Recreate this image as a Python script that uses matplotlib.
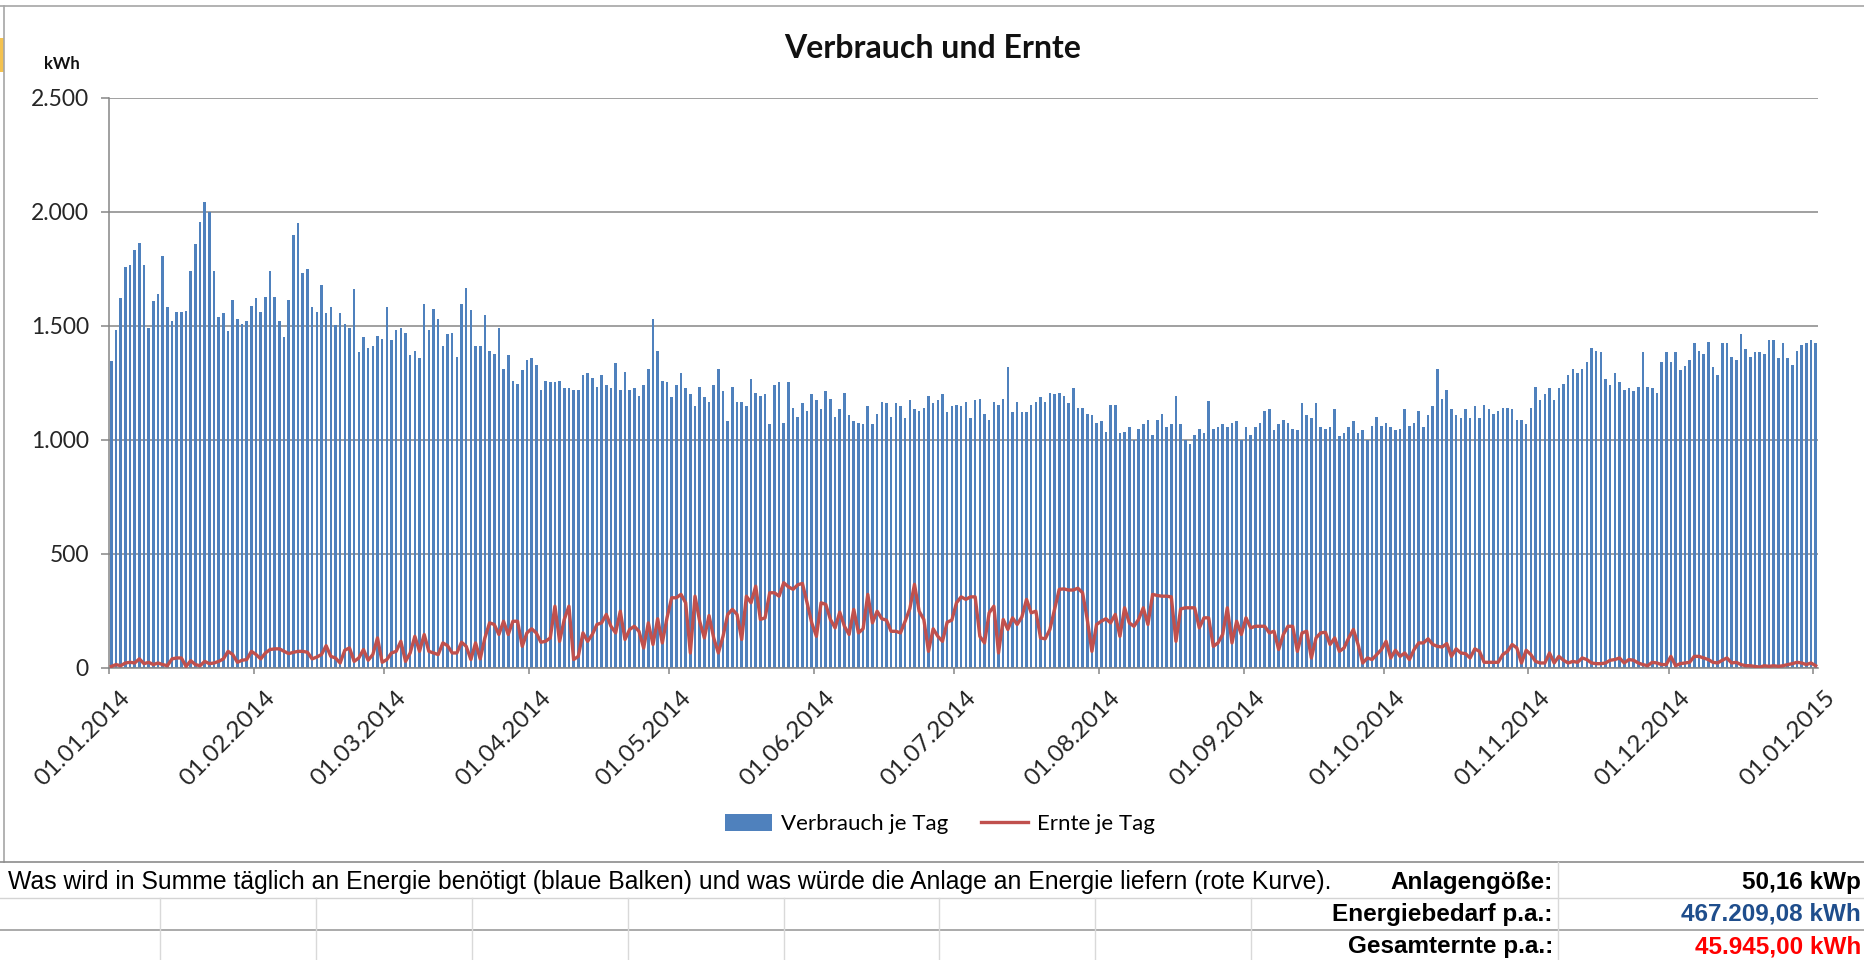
import numpy as np
import pandas as pd
import matplotlib
matplotlib.use("Agg")
import matplotlib.pyplot as plt
import matplotlib.dates as mdates
from matplotlib.ticker import FuncFormatter, MultipleLocator
from matplotlib.transforms import ScaledTranslation
from matplotlib.patches import Patch, Rectangle
from matplotlib.lines import Line2D

# daily consumption (kWh), 01.01.2014 .. 01.01.2015
verbrauch = [
    1346, 1484, 1623, 1759, 1767, 1833, 1865, 1767, 1491, 1608, 1640, 1806, 1583, 1523, 1561,
    1561, 1567, 1740, 1859, 1957, 2042, 2001, 1740, 1538, 1555, 1476, 1616, 1529, 1510, 1522,
    1588, 1623, 1561, 1627, 1740, 1627, 1522, 1451, 1616, 1898, 1951, 1733, 1752, 1583, 1561,
    1681, 1555, 1583, 1503, 1555, 1510, 1491, 1661, 1385, 1451, 1404, 1412, 1457, 1443, 1583,
    1437, 1484, 1491, 1470, 1372, 1391, 1358, 1595, 1484, 1576, 1529, 1412, 1463, 1470, 1365,
    1595, 1667, 1569, 1412, 1412, 1550, 1391, 1378, 1491, 1312, 1372, 1259, 1246, 1305, 1352,
    1358,
    1331, 1220, 1259, 1253, 1253, 1259, 1227, 1227, 1220, 1220, 1286, 1293, 1272, 1233, 1286,
    1240, 1227, 1338, 1220, 1299, 1220, 1227, 1193, 1240, 1312, 1529, 1391, 1259, 1253, 1187,
    1240, 1293, 1227, 1201, 1148, 1233, 1187, 1167, 1240, 1312, 1214, 1082, 1233, 1167, 1167,
    1148,
    1267, 1207, 1193, 1201, 1069, 1240, 1253, 1076, 1253, 1142, 1102, 1161, 1129, 1201, 1174,
    1135, 1214, 1180, 1102, 1135, 1207, 1108, 1082, 1076, 1069, 1148, 1069, 1116, 1167, 1161,
    1102, 1161, 1148, 1095, 1174, 1135, 1129, 1142, 1193, 1161, 1174, 1201, 1121, 1148, 1154,
    1148,
    1167, 1095, 1174, 1180, 1116, 1089, 1167, 1154, 1180, 1318, 1121, 1167, 1121, 1121, 1154,
    1167, 1187, 1167, 1207, 1201, 1207, 1193, 1161, 1227, 1142, 1142, 1116, 1108, 1076, 1082,
    1036, 1154, 1154, 1029, 1036, 1056, 1001, 1050, 1069, 1089, 1023, 1089, 1116, 1056, 1069,
    1193,
    1069, 1001, 984, 1023, 1050, 1029, 1170, 1050, 1056, 1069, 1056, 1076, 1082, 1001, 1056,
    1023, 1056, 1076, 1129, 1135, 1042, 1069, 1089, 1076, 1050, 1042, 1161, 1108, 1095, 1161,
    1056, 1050, 1056, 1135, 1016, 1029, 1056, 1082, 1029, 1042, 1001, 1063, 1102, 1063, 1076,
    1056, 1042,
    1050, 1135, 1063, 1076, 1129, 1056, 1108, 1148, 1312, 1180, 1220, 1135, 1108, 1095, 1135,
    1095, 1148, 1095, 1154, 1135, 1116, 1129, 1142, 1142, 1135, 1089, 1089, 1069, 1142, 1233,
    1174, 1201, 1227, 1174, 1227, 1246, 1286, 1312, 1293, 1312, 1344, 1404, 1391, 1385, 1267,
    1240, 1293, 1253, 1220, 1227, 1214, 1233, 1385, 1233, 1227, 1207, 1344, 1385, 1344, 1385,
    1305, 1325, 1352, 1425, 1391, 1378, 1431, 1318, 1286, 1425, 1425, 1365, 1352, 1463, 1399,
    1365, 1385, 1385, 1378, 1437, 1437, 1358, 1425, 1358, 1331, 1391, 1418, 1425, 1437, 1425,
]

# daily PV yield (kWh)
ernte = [
    7, 15, 10, 22, 25, 22, 40, 19, 25, 15, 22, 15, 10, 40, 44,
    44, 7, 32, 15, 10, 29, 19, 22, 29, 40, 73, 59, 25, 34, 37,
    73, 59, 40, 66, 81, 84, 84, 73, 63, 69, 73, 73, 69, 40, 48,
    59, 98, 51, 44, 22, 78, 88, 29, 44, 81, 34, 59, 132, 25, 37,
    66, 73, 117, 29, 66, 139, 73, 147, 73, 66, 59, 110, 98, 66, 66,
    113, 95, 37, 110, 40, 132, 198, 191, 147, 205, 147, 205, 205, 95, 154,
    172,
    154, 113, 117, 132, 271, 117, 213, 271, 37, 51, 154, 117, 147, 191, 198,
    235, 183, 154, 249, 125, 169, 183, 161, 88, 198, 103, 216, 110, 220, 308,
    308, 323, 286, 66, 315, 205, 132, 230, 132, 66, 139, 235, 257, 235, 125,
    315,
    286, 359, 213, 220, 330, 330, 315, 374, 356, 345, 365, 371, 286, 198, 139,
    286, 279, 213, 176, 245, 183, 147, 257, 154, 172, 323, 198, 249, 216, 210,
    161, 161, 154, 205, 260, 367, 249, 213, 73, 172, 139, 117, 201, 210, 286,
    312,
    301, 312, 312, 139, 110, 242, 271, 66, 213, 169, 220, 191, 224, 301, 242,
    249, 132, 128, 169, 257, 345, 347, 342, 342, 350, 330, 213, 73, 191, 205,
    216, 198, 235, 139, 264, 198, 183, 213, 264, 191, 323, 318, 315, 315, 312,
    117,
    259, 264, 264, 264, 176, 220, 220, 95, 110, 147, 264, 110, 205, 147, 220,
    176, 183, 183, 183, 154, 161, 81, 147, 183, 183, 73, 154, 161, 44, 132,
    154, 157, 103, 132, 73, 88, 132, 169, 103, 22, 44, 37, 59, 81, 117,
    44, 78,
    51, 66, 37, 81, 110, 110, 128, 103, 95, 92, 107, 51, 84, 66, 63,
    44, 84, 73, 25, 25, 25, 25, 59, 73, 103, 88, 22, 78, 59, 29,
    22, 22, 66, 22, 51, 34, 22, 29, 25, 44, 37, 22, 19, 19, 22,
    34, 37, 44, 22, 37, 34, 22, 15, 10, 25, 22, 15, 15, 51, 10,
    19, 22, 25, 51, 51, 44, 37, 25, 22, 34, 44, 22, 25, 15, 10,
    10, 7, 4, 10, 7, 10, 7, 10, 15, 19, 25, 22, 15, 22, 10,
]

tage = pd.date_range("2014-01-01", "2015-01-01", freq="D")

footer_text = ("Was wird in Summe täglich an Energie benötigt (blaue Balken) "
               "und was würde die Anlage an Energie liefern (rote Kurve).")
info_labels = ["Anlagengöße:", "Energiebedarf p.a.:", "Gesamternte p.a.:"]
info_values = ["50,16 kWp", "467.209,08 kWh", "45.945,00 kWh"]
info_colors = ["black", "#1F4E8C", "#FF0000"]

BLUE = "#4F81BD"
RED = "#C0504D"
GRID = "#868686"
SHEET_FONT = ['Liberation Sans Narrow', 'Liberation Sans', 'DejaVu Sans']

W, H = 1864, 960
fig = plt.figure(figsize=(W / 100, H / 100), dpi=100)
plt.rcParams['font.family'] = ['Lato', 'DejaVu Sans']


def fx(x):
    return x / W


def fy(y):
    return 1 - y / H


ax = fig.add_axes([fx(109), fy(668), fx(1818) - fx(109), fy(98) - fy(668)])

x = tage + pd.Timedelta(hours=12)
ax.bar(x, verbrauch, width=0.55, color=BLUE, linewidth=0, zorder=2)
ax.plot(x, ernte, color=RED, lw=2.4, zorder=3, solid_joinstyle='round')

ax.set_xlim(pd.Timestamp("2014-01-01"), pd.Timestamp("2015-01-02"))
ax.set_ylim(0, 2500)
ax.yaxis.set_major_locator(MultipleLocator(500))
ax.yaxis.set_major_formatter(FuncFormatter(lambda v, p: f"{int(v):,}".replace(",", ".")))
ax.xaxis.set_major_locator(mdates.MonthLocator(bymonthday=1))
ax.xaxis.set_major_formatter(mdates.DateFormatter("%d.%m.%Y"))

ax.grid(axis='y', color=GRID, lw=1.1, zorder=0)
ax.set_axisbelow(True)
for s in ['top', 'right']:
    ax.spines[s].set_visible(False)
for s in ['left', 'bottom']:
    ax.spines[s].set_color(GRID)
    ax.spines[s].set_linewidth(1.1)

ax.tick_params(axis='y', length=5.5, width=1.1, color=GRID, labelsize=16.5,
               labelcolor='#262626', pad=9)
ax.tick_params(axis='x', length=4.5, width=1.1, color=GRID, labelsize=17.5,
               labelcolor='#262626', pad=0)
shift = ScaledTranslation(0.18, -0.20, fig.dpi_scale_trans)
for lab in ax.get_xticklabels():
    lab.set_rotation(45)
    lab.set_rotation_mode('anchor')
    lab.set_ha('right')
    lab.set_va('center')
    lab.set_transform(lab.get_transform() + shift)

fig.text(fx(933), fy(48), "Verbrauch und Ernte", ha='center', va='center',
         fontsize=23, fontweight='bold', color='#111111')
fig.text(fx(62), fy(64), "kWh", ha='center', va='center', fontsize=12,
         fontweight='bold', color='#111111')

handles = [Patch(facecolor=BLUE, edgecolor='none'),
           Line2D([], [], color=RED, lw=2.4)]
fig.legend(handles, ["Verbrauch je Tag", "Ernte je Tag"], loc='center',
           bbox_to_anchor=(fx(940), fy(824)), ncol=2, frameon=False, fontsize=16,
           handlelength=2.1, handleheight=0.8, columnspacing=1.5, handletextpad=0.4)

# sheet frame around the chart
fig.add_artist(Line2D([0, 1], [fy(6), fy(6)], color='#A6A6A6', lw=1.2))
fig.add_artist(Line2D([fx(4), fx(4)], [fy(6), fy(862)], color='#A6A6A6', lw=1.2))
fig.add_artist(Rectangle((0, fy(72)), fx(4), fy(38) - fy(72), color='#F4C24F', lw=0))

# spreadsheet rows below the chart
rows_y = [882, 914, 947]
fig.add_artist(Line2D([0, 1], [fy(862), fy(862)], color='#8C8C8C', lw=1.2))
fig.add_artist(Line2D([0, 1], [fy(898), fy(898)], color='#D4D4D4', lw=1.0))
fig.add_artist(Line2D([0, 1], [fy(930), fy(930)], color='#9C9C9C', lw=1.2))
for cx in [160, 316, 472, 628, 784, 939, 1095, 1251]:
    fig.add_artist(Line2D([fx(cx), fx(cx)], [fy(898), 0], color='#D9D9D9', lw=1.0))
fig.add_artist(Line2D([fx(1558), fx(1558)], [fy(862), 0], color='#D9D9D9', lw=1.0))

fig.text(fx(8), fy(rows_y[0]), footer_text, ha='left', va='center', fontsize=17.8,
         family=SHEET_FONT, color='black')
for yy, lab, val, col in zip(rows_y, info_labels, info_values, info_colors):
    fig.text(fx(1553), fy(yy), lab, ha='right', va='center', fontsize=17.5, fontweight='bold',
             family=SHEET_FONT, color='black')
    fig.text(fx(1861), fy(yy), val, ha='right', va='center', fontsize=17.5, fontweight='bold',
             family=SHEET_FONT, color=col)

fig.savefig("out.png", dpi=100)
